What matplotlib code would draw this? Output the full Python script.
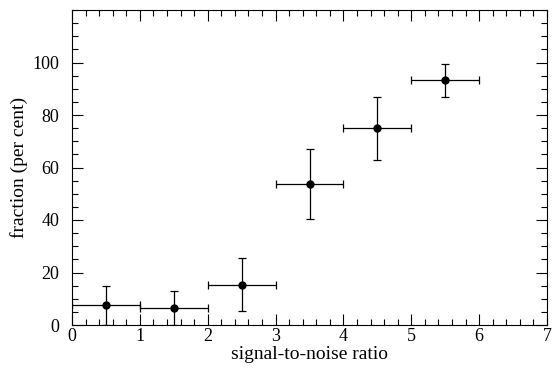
import numpy as np
import matplotlib
matplotlib.use("Agg")
import matplotlib.pyplot as plt
from matplotlib.ticker import MultipleLocator

plt.rcParams['font.family'] = ['Liberation Serif', 'DejaVu Serif']

# data
snr = [0.5, 1.5, 2.5, 3.5, 4.5, 5.5]
snr_err = [0.5, 0.5, 0.5, 0.5, 0.5, 0.5]
frac = [7.6, 6.5, 15.3, 53.7, 75.0, 93.2]
frac_lo = [7.6, 6.5, 9.8, 13.5, 12.0, 6.3]
frac_hi = [7.4, 6.5, 10.2, 13.5, 12.0, 6.3]

fig = plt.figure(figsize=(5.6, 3.79), dpi=100)
ax = fig.add_axes([72/560, 1 - 325/379, 475/560, 315/379])

ax.errorbar(snr, frac, xerr=snr_err, yerr=[frac_lo, frac_hi], fmt='o',
            color='black', ms=5, elinewidth=0.9, capsize=3, capthick=0.9)

ax.set_xlim(0, 7)
ax.set_ylim(0, 120)
ax.xaxis.set_major_locator(MultipleLocator(1))
ax.xaxis.set_minor_locator(MultipleLocator(0.2))
ax.yaxis.set_minor_locator(MultipleLocator(5))
ax.set_yticks([0, 20, 40, 60, 80, 100])
ax.tick_params(which='both', direction='in', top=True, right=True, labelsize=13)
ax.tick_params(which='major', length=8, width=0.8)
ax.tick_params(which='minor', length=4, width=0.8)
ax.tick_params(axis='x', which='major', pad=2)
ax.tick_params(axis='y', which='major', pad=9)
for s in ax.spines.values():
    s.set_linewidth(0.8)

ax.set_xlabel('signal-to-noise ratio', fontsize=14, labelpad=1)
ax.set_ylabel('fraction (per cent)', fontsize=14, labelpad=3)

fig.savefig('out.png', dpi=100)
